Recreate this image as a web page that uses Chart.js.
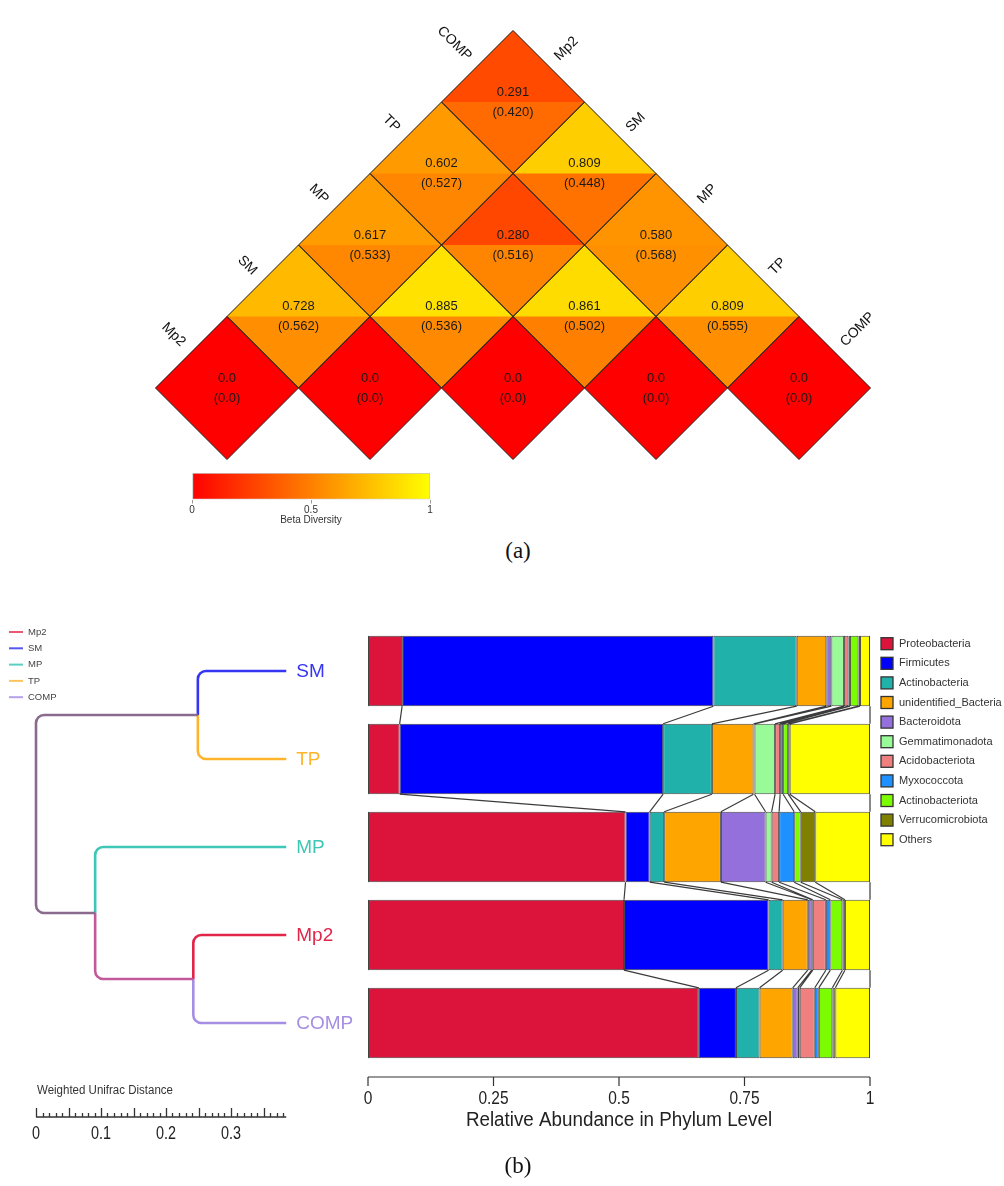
<!DOCTYPE html>
<html>
<head>
<meta charset="utf-8">
<script src="https://cdn.jsdelivr.net/npm/chart.js@4.4.1/dist/chart.umd.min.js"></script>
<style>
  html, body { margin: 0; padding: 0; background: #fff; }
  body { position: relative; width: 1004px; height: 1186px; overflow: hidden; font-family: "Liberation Sans", Arial, sans-serif; }
  canvas { position: absolute; }
  .panel-tag { position: absolute; font-family: "Liberation Serif", "DejaVu Serif", serif; font-size: 23px; color: #111; transform: translateX(-50%); }
</style>
</head>
<body>
<canvas id="beta" width="1004" height="470" style="left:0;top:0"></canvas>
<canvas id="betaScale" width="260" height="72" style="left:180px;top:465px"></canvas>
<div class="panel-tag" style="left:518px;top:538px">(a)</div>
<canvas id="tree" width="360" height="586" style="left:0;top:600px"></canvas>
<canvas id="abund" width="664" height="586" style="left:340px;top:600px"></canvas>
<div class="panel-tag" style="left:518px;top:1153px">(b)</div>

<script>
// ---- (a) beta diversity triangle ----
const samples = ['Mp2', 'SM', 'MP', 'TP', 'COMP'];
const pairFirst = ['Mp2', 'SM', 'MP', 'TP', 'Mp2', 'SM', 'MP', 'Mp2', 'SM', 'Mp2'];
const pairSecond = ['SM', 'MP', 'TP', 'COMP', 'MP', 'TP', 'COMP', 'TP', 'COMP', 'COMP'];
const weightedDist = [0.728, 0.885, 0.861, 0.809, 0.617, 0.280, 0.580, 0.602, 0.809, 0.291];
const unweightedDist = [0.562, 0.536, 0.502, 0.555, 0.533, 0.516, 0.568, 0.527, 0.448, 0.420];
const betaTicks = [0, 0.5, 1];

// ---- (b) clustering tree ----
const treeNodes = ['SM', 'TP', 'MP', 'Mp2', 'COMP', 'SM+TP', 'Mp2+COMP', 'MP+(Mp2+COMP)', 'root'];
const nodeDepth = [0.385, 0.385, 0.385, 0.385, 0.385, 0.249, 0.242, 0.091, 0];
const nodeParent = [5, 5, 7, 6, 6, 8, 7, 8, -1];
const branchColors = ['#3636f2', '#ffb42c', '#3ec6b6', '#e2264a', '#a68ee2', '#8b6b8d', '#c3589b', '#8b6b8d'];
const legendSamples = ['Mp2', 'SM', 'MP', 'TP', 'COMP'];
const legendColors = ['#ea5871', '#5656f0', '#5ccfc2', '#ffc45e', '#b4a2ea'];
const distanceTicks = [0, 0.1, 0.2, 0.3];

// ---- (b) phylum composition ----
const abundSamples = ['SM', 'TP', 'MP', 'Mp2', 'COMP'];
const phyla = ['Proteobacteria', 'Firmicutes', 'Actinobacteria', 'unidentified_Bacteria', 'Bacteroidota',
  'Gemmatimonadota', 'Acidobacteriota', 'Myxococcota', 'Actinobacteriota', 'Verrucomicrobiota', 'Others'];
const phylumColors = ['#dc143c', '#0000ff', '#20b2aa', '#ffa500', '#9370db', '#98fb98',
  '#f08080', '#1e90ff', '#7cfc00', '#808000', '#ffff00'];
const proteobacteria    = [0.068, 0.063, 0.513, 0.510, 0.659];
const firmicutes        = [0.620, 0.525, 0.048, 0.288, 0.074];
const actinobacteria    = [0.166, 0.097, 0.029, 0.028, 0.047];
const unidentified      = [0.059, 0.083, 0.113, 0.050, 0.066];
const bacteroidota      = [0.010, 0.002, 0.089, 0.008, 0.010];
const gemmatimonadota   = [0.025, 0.041, 0.012, 0.002, 0.004];
const acidobacteriota   = [0.009, 0.010, 0.015, 0.026, 0.030];
const myxococcota       = [0.003, 0.006, 0.030, 0.009, 0.008];
const actinobacteriota  = [0.017, 0.010, 0.013, 0.024, 0.027];
const verrucomicrobiota = [0.003, 0.003, 0.029, 0.005, 0.006];
const others            = [0.020, 0.160, 0.109, 0.050, 0.069];
const abundanceTicks = [0, 0.25, 0.5, 0.75, 1];

const SANS = '"Liberation Sans", Arial, sans-serif';

// red -> orange -> yellow ramp
const heat = (v) => `rgb(255,${Math.round(255 * v)},0)`;

// horizontally squeezed text, stands in for a condensed face
function narrowText(ctx, text, x, y, squeeze) {
  ctx.save();
  ctx.translate(x, y);
  ctx.scale(squeeze, 1);
  ctx.fillText(text, 0, 0);
  ctx.restore();
}

// Diamond cells: x = position along the base, y = height above the diagonal row
const cells = samples.map((s, i) => ({ x: i, y: 0, top: 0, bottom: 0, diag: true }));
pairFirst.forEach((a, k) => {
  const i = samples.indexOf(a), j = samples.indexOf(pairSecond[k]);
  cells.push({ x: (i + j) / 2, y: (j - i) / 2, top: weightedDist[k], bottom: unweightedDist[k], diag: false });
});

const diamondPlugin = {
  id: 'diamonds',
  afterDatasetsDraw(chart) {
    const { ctx, scales: { x, y } } = chart;
    const pts = chart.data.datasets[0].data;
    const corners = (c) => ({
      cx: x.getPixelForValue(c.x), cy: y.getPixelForValue(c.y),
      l: x.getPixelForValue(c.x - 0.5), r: x.getPixelForValue(c.x + 0.5),
      t: y.getPixelForValue(c.y + 0.5), b: y.getPixelForValue(c.y - 0.5),
    });
    ctx.save();
    pts.forEach((c) => {
      const { cx, cy, l, r, t, b } = corners(c);
      ctx.beginPath();
      ctx.moveTo(l, cy); ctx.lineTo(cx, t); ctx.lineTo(r, cy); ctx.lineTo(cx, b); ctx.closePath();
      ctx.fillStyle = heat(c.bottom);
      ctx.fill();
      ctx.beginPath();
      ctx.moveTo(l, cy); ctx.lineTo(cx, t); ctx.lineTo(r, cy); ctx.closePath();
      ctx.fillStyle = heat(c.top);
      ctx.fill();
    });
    // outlines
    ctx.strokeStyle = '#222';
    ctx.lineWidth = 1;
    pts.forEach((c) => {
      const { cx, cy, l, r, t, b } = corners(c);
      ctx.beginPath();
      ctx.moveTo(l, cy); ctx.lineTo(cx, t); ctx.lineTo(r, cy); ctx.lineTo(cx, b); ctx.closePath();
      ctx.stroke();
    });
    // values
    ctx.fillStyle = '#1a1a1a';
    ctx.font = '13px ' + SANS;
    ctx.textAlign = 'center';
    ctx.textBaseline = 'middle';
    pts.forEach((c) => {
      const cx = x.getPixelForValue(c.x), cy = y.getPixelForValue(c.y);
      const fmt = (v) => (c.diag ? v.toFixed(1) : v.toFixed(3));
      ctx.fillText(fmt(c.top), cx, cy - 10);
      ctx.fillText('(' + fmt(c.bottom) + ')', cx, cy + 10);
    });
    // sample names along both upper edges
    ctx.font = '14px ' + SANS;
    ctx.fillStyle = '#111';
    const last = samples.length - 1;
    samples.forEach((s, k) => {
      // left edge: cell (Mp2, s)
      let px = x.getPixelForValue(k / 2 - 0.25) - 8;
      let py = y.getPixelForValue(k / 2 + 0.25) - 8;
      ctx.save();
      ctx.translate(px, py);
      ctx.rotate(Math.PI / 4);
      ctx.textAlign = 'right';
      ctx.fillText(s, 0, 0);
      ctx.restore();
      // right edge: cell (s, COMP)
      px = x.getPixelForValue((k + last) / 2 + 0.25) + 8;
      py = y.getPixelForValue((last - k) / 2 + 0.25) - 8;
      ctx.save();
      ctx.translate(px, py);
      ctx.rotate(-Math.PI / 4);
      ctx.textAlign = 'left';
      ctx.fillText(s, 0, 0);
      ctx.restore();
    });
    ctx.restore();
  },
};

const UNIT = 143, ORIGIN_X = 227, ORIGIN_Y = 388;
new Chart(document.getElementById('beta'), {
  type: 'scatter',
  data: { datasets: [{ data: cells, pointRadius: 0 }] },
  options: {
    responsive: false,
    animation: false,
    layout: { padding: 0 },
    plugins: { legend: { display: false }, tooltip: { enabled: false } },
    scales: {
      x: { type: 'linear', display: false, min: -ORIGIN_X / UNIT, max: (1004 - ORIGIN_X) / UNIT },
      y: { type: 'linear', display: false, min: -(470 - ORIGIN_Y) / UNIT, max: ORIGIN_Y / UNIT },
    },
  },
  plugins: [diamondPlugin],
});

// colour key
new Chart(document.getElementById('betaScale'), {
  type: 'bar',
  data: {
    labels: [''],
    datasets: [{
      data: [[betaTicks[0], betaTicks[betaTicks.length - 1]]],
      backgroundColor: (ctx) => {
        const area = ctx.chart.chartArea;
        if (!area) return '#f80';
        const g = ctx.chart.ctx.createLinearGradient(area.left, 0, area.right, 0);
        g.addColorStop(0, heat(0));
        g.addColorStop(0.5, heat(0.5));
        g.addColorStop(1, heat(1));
        return g;
      },
      borderColor: '#c8c8c8',
      borderWidth: 1,
      borderSkipped: false,
      barPercentage: 1,
      categoryPercentage: 1,
    }],
  },
  options: {
    indexAxis: 'y',
    responsive: false,
    animation: false,
    layout: { padding: { left: 12, right: 10, top: 8, bottom: 11 } },
    plugins: { legend: { display: false }, tooltip: { enabled: false } },
    scales: {
      y: { display: false },
      x: {
        min: 0, max: 1,
        afterBuildTicks: (axis) => { axis.ticks = betaTicks.map((v) => ({ value: v })); },
        ticks: { font: { family: SANS, size: 10 }, color: '#333', padding: 1, maxRotation: 0,
          callback: (v) => String(v) },
        grid: { drawOnChartArea: false, tickLength: 4, color: '#999' },
        border: { display: false },
        title: { display: true, text: 'Beta Diversity', font: { family: SANS, size: 10 }, color: '#333', padding: { top: 3, bottom: 0 } },
      },
    },
  },
});

// ---- tree ----
const nodeY = treeNodes.map(() => 0);
for (let i = 0; i < treeNodes.length; i++) {
  const kids = nodeParent.map((p, k) => (p === i ? k : -1)).filter((k) => k >= 0);
  nodeY[i] = kids.length ? kids.reduce((s, k) => s + nodeY[k], 0) / kids.length : abundSamples.indexOf(treeNodes[i]) + 1;
}

const treePlugin = {
  id: 'dendrogram',
  afterDatasetsDraw(chart) {
    const { ctx, scales: { x, y } } = chart;
    ctx.save();
    ctx.lineWidth = 2.6;
    ctx.lineJoin = 'round';
    nodeParent.forEach((p, i) => {
      if (p < 0) return;
      const px = x.getPixelForValue(nodeDepth[p]), py = y.getPixelForValue(nodeY[p]);
      const cx = x.getPixelForValue(nodeDepth[i]), cy = y.getPixelForValue(nodeY[i]);
      ctx.strokeStyle = branchColors[i];
      ctx.beginPath();
      ctx.moveTo(px, py);
      ctx.arcTo(px, cy, cx, cy, 8);
      ctx.lineTo(cx, cy);
      ctx.stroke();
    });
    // leaf names
    ctx.font = '19px ' + SANS;
    ctx.textAlign = 'left';
    ctx.textBaseline = 'middle';
    abundSamples.forEach((s) => {
      const i = treeNodes.indexOf(s);
      ctx.fillStyle = branchColors[i];
      ctx.fillText(s, x.getPixelForValue(nodeDepth[i]) + 10, y.getPixelForValue(nodeY[i]) + 1);
    });
    // small key, top left
    ctx.font = '9.5px ' + SANS;
    ctx.lineWidth = 2;
    legendSamples.forEach((s, k) => {
      const ly = 32 + k * 16.3;
      ctx.strokeStyle = legendColors[k];
      ctx.beginPath(); ctx.moveTo(9, ly); ctx.lineTo(23, ly); ctx.stroke();
      ctx.fillStyle = '#444';
      ctx.fillText(s, 28, ly);
    });
    // distance scale bar
    const base = chart.chartArea.bottom + 50;
    ctx.strokeStyle = '#333';
    ctx.lineWidth = 1.3;
    ctx.beginPath();
    ctx.moveTo(x.getPixelForValue(0), base);
    ctx.lineTo(x.getPixelForValue(nodeDepth[0]), base);
    for (let i = 0; i <= 38; i++) {
      const tx = Math.round(x.getPixelForValue(i / 100)) + 0.5;
      ctx.moveTo(tx, base);
      ctx.lineTo(tx, base - (i % 5 === 0 ? 9 : 4));
    }
    ctx.stroke();
    ctx.fillStyle = '#333';
    ctx.font = '12.5px ' + SANS;
    ctx.textAlign = 'left';
    narrowText(ctx, 'Weighted Unifrac Distance', x.getPixelForValue(0) + 1, base - 26, 0.92);
    ctx.font = '18px ' + SANS;
    ctx.textAlign = 'center';
    ctx.fillStyle = '#222';
    distanceTicks.forEach((v) => narrowText(ctx, String(v), x.getPixelForValue(v), base + 17, 0.8));
    ctx.restore();
  },
};

new Chart(document.getElementById('tree'), {
  type: 'scatter',
  data: { datasets: [{ data: treeNodes.map((n, i) => ({ x: nodeDepth[i], y: nodeY[i] })), pointRadius: 0 }] },
  options: {
    responsive: false,
    animation: false,
    layout: { padding: { left: 36, right: 64, top: 27, bottom: 119 } },
    plugins: { legend: { display: false }, tooltip: { enabled: false } },
    scales: {
      x: { type: 'linear', display: false, min: 0, max: 0.4 },
      y: { type: 'linear', display: false, min: 0.5, max: 5.5, reverse: true },
    },
  },
  plugins: [treePlugin],
});

// ---- stacked composition bars ----
const phylumShares = [proteobacteria, firmicutes, actinobacteria, unidentified, bacteroidota,
  gemmatimonadota, acidobacteriota, myxococcota, actinobacteriota, verrucomicrobiota, others];

const flowPlugin = {
  id: 'flows',
  afterDatasetsDraw(chart) {
    const { ctx, scales: { x }, chartArea } = chart;
    const meta = chart.getDatasetMeta(0);
    const cum = abundSamples.map((s, si) => {
      let run = 0;
      return phylumShares.map((arr) => (run += arr[si]));
    });
    ctx.save();
    // links between neighbouring bars
    ctx.strokeStyle = 'rgba(25,25,25,0.85)';
    ctx.lineWidth = 1.2;
    for (let si = 0; si < abundSamples.length - 1; si++) {
      const upper = meta.data[si], lower = meta.data[si + 1];
      const yTop = upper.y + upper.height / 2, yBot = lower.y - lower.height / 2;
      ctx.beginPath();
      cum[si].forEach((v, k) => {
        ctx.moveTo(x.getPixelForValue(v), yTop);
        ctx.lineTo(x.getPixelForValue(cum[si + 1][k]), yBot);
      });
      ctx.stroke();
    }
    // bottom axis
    const base = chartArea.bottom + 10;
    ctx.strokeStyle = '#333';
    ctx.lineWidth = 1.2;
    ctx.beginPath();
    ctx.moveTo(x.getPixelForValue(0), base);
    ctx.lineTo(x.getPixelForValue(1), base);
    abundanceTicks.forEach((v) => {
      const tx = x.getPixelForValue(v);
      ctx.moveTo(tx, base);
      ctx.lineTo(tx, base + 9);
    });
    ctx.stroke();
    ctx.fillStyle = '#222';
    ctx.textAlign = 'center';
    ctx.textBaseline = 'middle';
    ctx.font = '18px ' + SANS;
    abundanceTicks.forEach((v) => narrowText(ctx, String(v), x.getPixelForValue(v), base + 22, 0.86));
    ctx.font = '20px ' + SANS;
    narrowText(ctx, 'Relative Abundance in Phylum Level', x.getPixelForValue(0.5), base + 43, 0.94);
    // phylum key
    ctx.textAlign = 'left';
    ctx.font = '11px ' + SANS;
    phyla.forEach((p, k) => {
      const ly = 43.7 + k * 19.6;
      ctx.fillStyle = phylumColors[k];
      ctx.fillRect(541, ly - 6, 12, 12);
      ctx.strokeStyle = '#333';
      ctx.lineWidth = 1.3;
      ctx.strokeRect(541, ly - 6, 12, 12);
      ctx.fillStyle = '#333';
      ctx.fillText(p, 559, ly);
    });
    ctx.restore();
  },
};

new Chart(document.getElementById('abund'), {
  type: 'bar',
  data: {
    labels: abundSamples,
    datasets: phyla.map((p, i) => ({
      label: p,
      data: phylumShares[i],
      backgroundColor: phylumColors[i],
      borderColor: 'rgba(20,20,20,0.8)',
      borderWidth: 1,
      borderSkipped: false,
      barPercentage: 0.8,
      categoryPercentage: 1,
    })),
  },
  options: {
    indexAxis: 'y',
    responsive: false,
    animation: false,
    layout: { padding: { left: 28, right: 134, top: 27, bottom: 119 } },
    plugins: { legend: { display: false }, tooltip: { enabled: false } },
    scales: {
      x: { stacked: true, min: 0, max: 1, display: false },
      y: { stacked: true, display: false },
    },
  },
  plugins: [flowPlugin],
});
</script>
</body>
</html>
